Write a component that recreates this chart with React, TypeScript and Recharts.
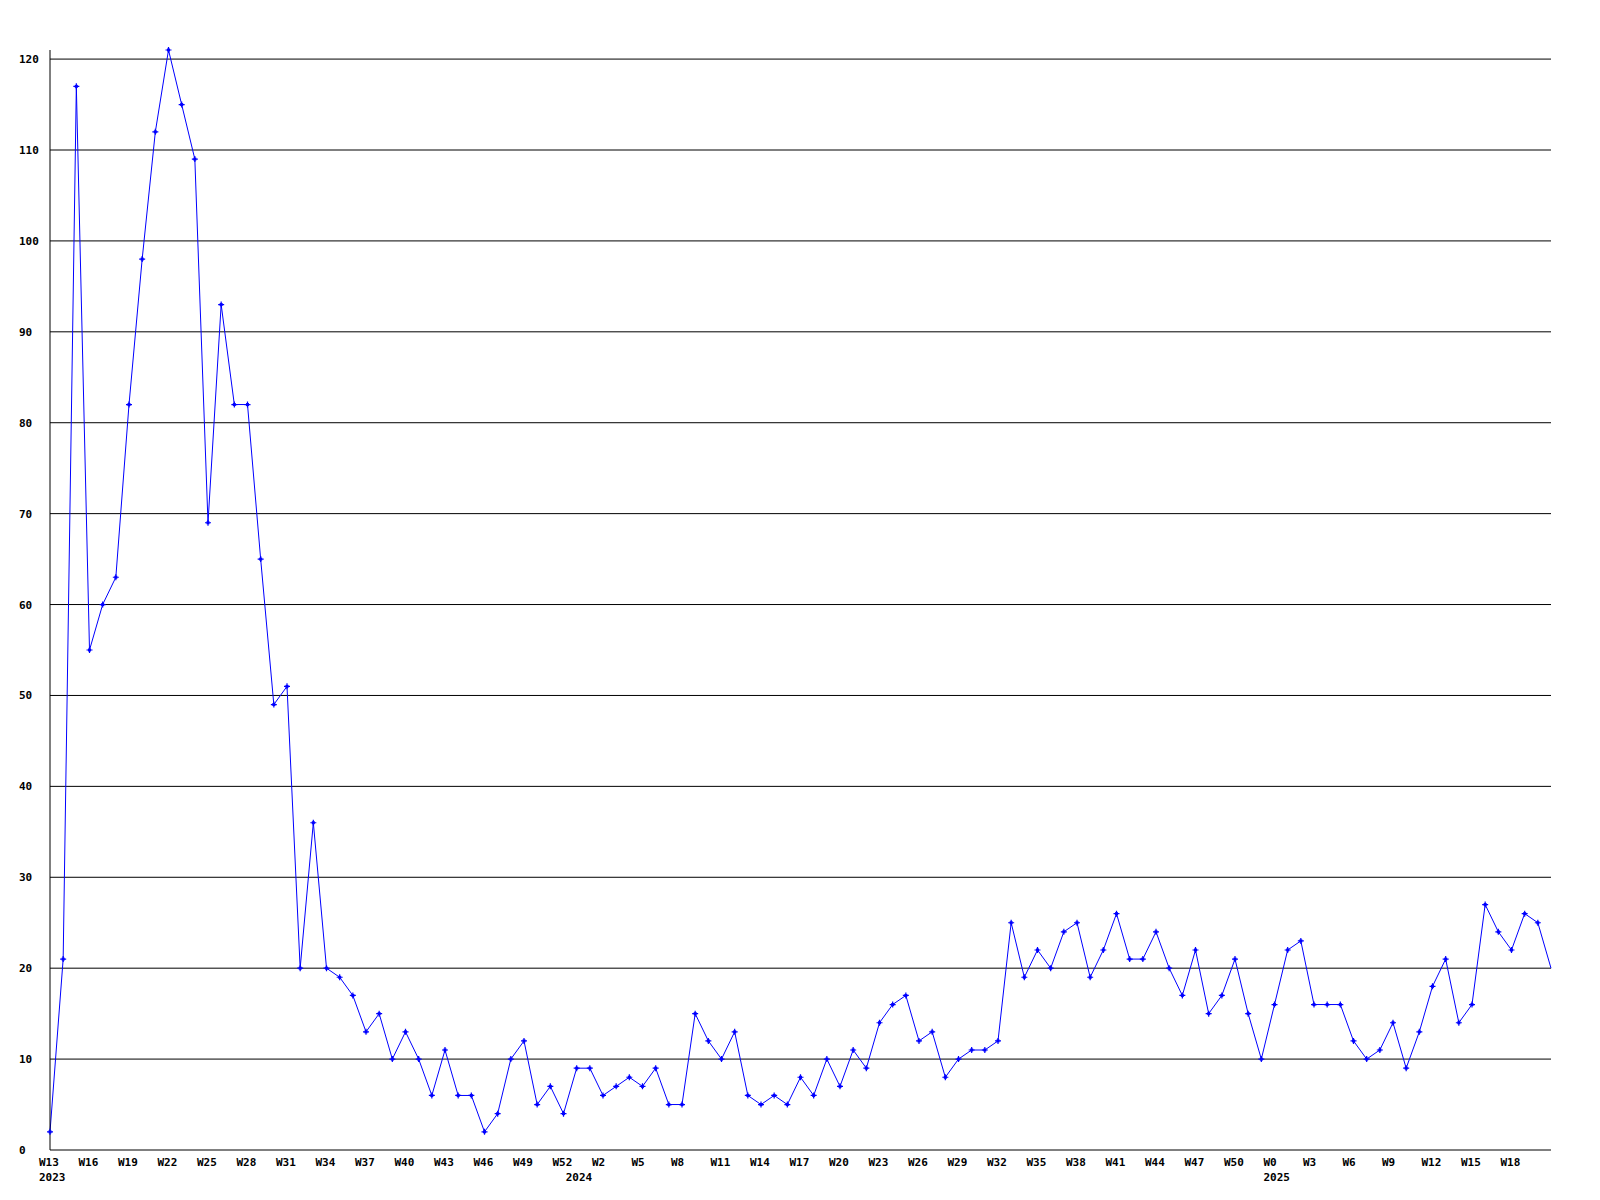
import React from 'react';
import { LineChart, Line, XAxis, YAxis, ReferenceLine } from 'recharts';

// weekly counts, W13 2023 .. W21 2025
const weeks2023 = [13, 14, 15, 16, 17, 18, 19, 20, 21, 22, 23, 24, 25, 26, 27, 28, 29, 30, 31, 32,
  33, 34, 35, 36, 37, 38, 39, 40, 41, 42, 43, 44, 45, 46, 47, 48, 49, 50, 51, 52];
const weeks2024 = [0, 1, 2, 3, 4, 5, 6, 7, 8, 9, 10, 11, 12, 13, 14, 15, 16, 17, 18, 19, 20, 21, 22,
  23, 24, 25, 26, 27, 28, 29, 30, 31, 32, 33, 34, 35, 36, 37, 38, 39, 40, 41, 42, 43, 44, 45, 46,
  47, 48, 49, 50, 51, 52];
const weeks2025 = [0, 1, 2, 3, 4, 5, 6, 7, 8, 9, 10, 11, 12, 13, 14, 15, 16, 17, 18, 19, 20, 21];

const values = [
  2, 21, 117, 55, 60, 63, 82, 98, 112, 121, 115, 109, 69, 93, 82, 82, 65, 49, 51, 20,
  36, 20, 19, 17, 13, 15, 10, 13, 10, 6, 11, 6, 6, 2, 4, 10, 12, 5, 7, 4,
  9, 9, 6, 7, 8, 7, 9, 5, 5, 15, 12, 10, 13, 6, 5, 6, 5, 8, 6, 10,
  7, 11, 9, 14, 16, 17, 12, 13, 8, 10, 11, 11, 12, 25, 19, 22, 20, 24, 25, 19,
  22, 26, 21, 21, 24, 20, 17, 22, 15, 17, 21, 15, 10, 16, 22, 23, 16, 16, 16, 12,
  10, 11, 14, 9, 13, 18, 21, 14, 16, 27, 24, 22, 26, 25, 20,
];

const years = ['2023', '2024', '2025'];
const yTicks = [0, 10, 20, 30, 40, 50, 60, 70, 80, 90, 100, 110, 120];

const weekLabels = [...weeks2023, ...weeks2024, ...weeks2025].map((w) => 'W' + w);
const yearStart: Record<number, string> = {
  0: years[0],
  [weeks2023.length]: years[1],
  [weeks2023.length + weeks2024.length]: years[2],
};

const last = values.length - 1;
const data = values.map((v, i) => ({ i, week: weekLabels[i], count: v }));
const xTicks = Array.from(new Set([
  ...data.filter((d) => d.i % 3 === 0 && d.i < last).map((d) => d.i),
  ...Object.keys(yearStart).map(Number),
])).sort((a, b) => a - b);

const font = { fontFamily: '"DejaVu Sans Mono", monospace', fontWeight: 'bold' as const, fontSize: 11 };

const XTick = (props: any) => {
  const { x, payload } = props;
  const i = payload.value as number;
  return (
    <g>
      {i % 3 === 0 && (
        <text x={x - 11} y={1166} textAnchor="start" fill="#000" {...font}>{weekLabels[i]}</text>
      )}
      {yearStart[i] && (
        <text x={x - 11} y={1181} textAnchor="start" fill="#000" {...font}>{yearStart[i]}</text>
      )}
    </g>
  );
};

const YTick = (props: any) => {
  const { y, payload } = props;
  return (
    <text x={19} y={y + 4} textAnchor="start" fill="#000" {...font}>{payload.value}</text>
  );
};

const Dot = (props: any) => {
  const { cx, cy, index } = props;
  if (index === last) return <g key={index} />;
  return (
    <g key={index}>
      <path d={`M${cx - 3},${cy}h6M${cx},${cy - 3}v6`} stroke="#0000ff" strokeWidth={1.2} />
      <rect x={cx - 1.5} y={cy - 1.5} width={3} height={3} fill="#0000ff" />
    </g>
  );
};

export default function App() {
  return (
    <div style={{ position: 'absolute', left: 0, top: 0, width: 1600, height: 1200, background: '#fff' }}>
      <LineChart width={1600} height={1200} data={data} margin={{ top: 50, right: 49, bottom: 0, left: 0 }}>
        <XAxis
          dataKey="i"
          type="number"
          domain={[0, last]}
          ticks={xTicks}
          interval={0}
          height={50}
          axisLine={{ stroke: '#000', strokeWidth: 1 }}
          tickLine={false}
          tick={<XTick />}
        />
        <YAxis
          type="number"
          domain={[0, 121]}
          ticks={yTicks}
          interval={0}
          width={50}
          axisLine={{ stroke: '#000', strokeWidth: 1 }}
          tickLine={false}
          tick={<YTick />}
        />
        {yTicks.filter((t) => t > 0).map((t) => (
          <ReferenceLine key={t} y={t} stroke="#000" strokeWidth={1} />
        ))}
        <Line
          type="linear"
          dataKey="count"
          stroke="#0000ff"
          strokeWidth={1}
          dot={<Dot />}
          activeDot={false}
          isAnimationActive={false}
        />
      </LineChart>
    </div>
  );
}
